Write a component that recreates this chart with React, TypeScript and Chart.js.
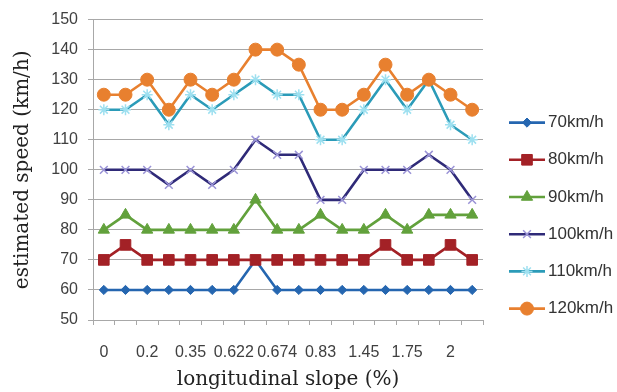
import React, { useEffect, useRef } from "react";
import { Chart, registerables, PointElement } from "chart.js";

Chart.register(...registerables);

// Longitudinal slope categories (only every other one is labelled on the axis)
const slopeLabels = [
  "0", "", "0.2", "", "0.35", "", "0.622", "", "0.674", "",
  "0.83", "", "1.45", "", "1.75", "", "2", "",
];

// Estimated speed (km/h) for each design speed
const speed70 = [60, 60, 60, 60, 60, 60, 60, 70, 60, 60, 60, 60, 60, 60, 60, 60, 60, 60];
const speed80 = [70, 75, 70, 70, 70, 70, 70, 70, 70, 70, 70, 70, 70, 75, 70, 70, 75, 70];
const speed90 = [80, 85, 80, 80, 80, 80, 80, 90, 80, 80, 85, 80, 80, 85, 80, 85, 85, 85];
const speed100 = [100, 100, 100, 95, 100, 95, 100, 110, 105, 105, 90, 90, 100, 100, 100, 105, 100, 90];
const speed110 = [120, 120, 125, 115, 125, 120, 125, 130, 125, 125, 110, 110, 120, 130, 120, 130, 115, 110];
const speed120 = [125, 125, 130, 120, 130, 125, 130, 140, 140, 135, 120, 120, 125, 135, 125, 130, 125, 120];

const seriesNames = ["70km/h", "80km/h", "90km/h", "100km/h", "110km/h", "120km/h"];

const SANS = '"Liberation Sans", Arial, sans-serif';
const SERIF = '"DejaVu Serif", "Liberation Serif", serif';
const GRID = "#a8a8a8";

// Draws the key on the right: a short line with the series marker, then the name
const seriesKey = {
  id: "seriesKey",
  afterDraw(chart: any) {
    const { ctx, chartArea } = chart;
    const x0 = chartArea.right + 26;
    const x1 = x0 + 36;
    const y0 = chartArea.top + 103;
    const step = 37.2;
    chart.data.datasets.forEach((ds: any, i: number) => {
      const y = y0 + i * step;
      ctx.save();
      ctx.strokeStyle = ds.borderColor;
      ctx.lineWidth = ds.borderWidth;
      ctx.beginPath();
      ctx.moveTo(x0, y);
      ctx.lineTo(x1, y);
      ctx.stroke();
      const marker = new (PointElement as any)({
        x: (x0 + x1) / 2,
        y,
        options: {
          pointStyle: ds.pointStyle,
          radius: ds.pointRadius,
          rotation: 0,
          borderWidth: ds.pointBorderWidth,
          backgroundColor: ds.pointBackgroundColor,
          borderColor: ds.pointBorderColor,
        },
      });
      marker.draw(ctx);
      ctx.fillStyle = "#333333";
      ctx.font = `17px ${SANS}`;
      ctx.textBaseline = "middle";
      ctx.textAlign = "left";
      ctx.fillText(ds.label, x1 + 3, y);
      ctx.restore();
    });
  },
};

function series(
  label: string,
  data: number[],
  line: string,
  marker: string,
  pointStyle: string,
  radius: number,
  markerBorder: number,
  order: number
) {
  return {
    label,
    data,
    borderColor: line,
    backgroundColor: line,
    borderWidth: 2.6,
    tension: 0,
    pointStyle,
    pointRadius: radius,
    pointBorderWidth: markerBorder,
    pointBackgroundColor: marker,
    pointBorderColor: marker,
    order,
  };
}

export default function App() {
  const canvasRef = useRef<HTMLCanvasElement | null>(null);

  useEffect(() => {
    if (!canvasRef.current) return;
    const chart = new Chart(canvasRef.current, {
      type: "line",
      data: {
        labels: slopeLabels,
        datasets: [
          series(seriesNames[0], speed70, "#2566b0", "#2566b0", "rectRot", 4.6, 1, 6),
          series(seriesNames[1], speed80, "#a32126", "#a32126", "rect", 7.5, 1, 5),
          series(seriesNames[2], speed90, "#62a13c", "#62a13c", "triangle", 6.5, 1, 4),
          series(seriesNames[3], speed100, "#2f2a78", "#9a93d6", "crossRot", 5.5, 1.5, 3),
          series(seriesNames[4], speed110, "#2b9bb8", "#9ee0f0", "star", 5.5, 1.5, 2),
          series(seriesNames[5], speed120, "#e8802f", "#e8802f", "circle", 6.5, 1, 1),
        ] as any,
      },
      options: {
        animation: false,
        responsive: true,
        maintainAspectRatio: false,
        layout: { padding: { left: 0, right: 134, top: 14, bottom: 0 } },
        plugins: {
          legend: { display: false },
          tooltip: { enabled: false },
        },
        scales: {
          x: {
            type: "category",
            offset: true,
            grid: {
              display: true,
              drawOnChartArea: false,
              drawTicks: true,
              tickLength: 5,
              offset: true,
              color: GRID,
            },
            border: { color: GRID },
            ticks: {
              autoSkip: false,
              maxRotation: 0,
              padding: 18,
              color: "#404040",
              font: { family: SANS, size: 16 },
            },
            title: {
              display: true,
              text: "longitudinal slope (%)",
              color: "#222222",
              font: { family: SERIF, size: 20 },
              padding: { top: 4, bottom: 0 },
            },
            afterFit: (s: any) => {
              s.height = 72;
            },
          },
          y: {
            min: 50,
            max: 150,
            grid: { color: GRID, tickLength: 5 },
            border: { color: GRID },
            ticks: {
              stepSize: 10,
              padding: 10,
              color: "#404040",
              font: { family: SANS, size: 16 },
            },
            title: {
              display: true,
              text: "estimated speed (km/h)",
              color: "#222222",
              font: { family: SERIF, size: 20 },
              padding: { top: 11, bottom: 0 },
            },
            afterFit: (s: any) => {
              s.width = 93;
            },
          },
        },
      } as any,
      plugins: [seriesKey],
    });
    return () => chart.destroy();
  }, []);

  return (
    <div
      style={{
        position: "fixed",
        left: 0,
        top: 0,
        width: 617,
        height: 392,
        background: "#ffffff",
      }}
    >
      <canvas ref={canvasRef} />
    </div>
  );
}
